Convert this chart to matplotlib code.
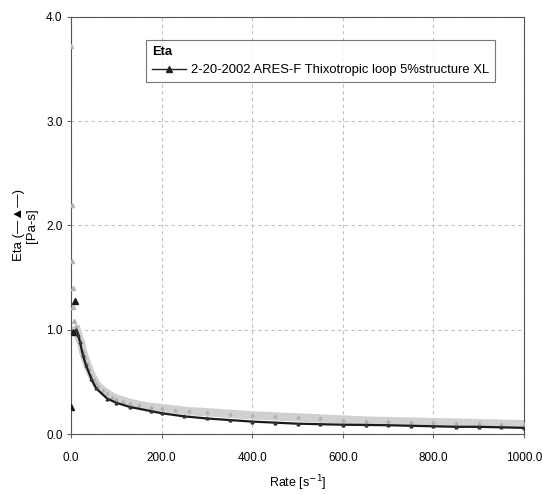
import matplotlib
matplotlib.use("Agg")
import matplotlib.pyplot as plt
from matplotlib import font_manager

fams = {f.name for f in font_manager.fontManager.ttflist}
main_font = "Liberation Sans Narrow" if "Liberation Sans Narrow" in fams else "Liberation Sans"
plt.rcParams['font.family'] = [main_font, 'DejaVu Sans']

# Up sweep (gray) data
up_rate = [1, 2, 3, 4, 5, 6, 10, 14, 18, 22, 26, 30, 35, 40, 45, 50, 55, 60, 70, 80, 90,
           100, 115, 130, 150, 177, 200, 230, 260, 300, 350, 400, 450, 500, 550, 600,
           650, 700, 750, 800, 850, 900, 950, 1000]
up_eta = [3.72, 2.2, 1.66, 1.40, 1.22, 1.08, 1.04, 0.98, 0.92, 0.88, 0.80, 0.74, 0.68, 0.62,
          0.57, 0.53, 0.49, 0.46, 0.42, 0.39, 0.36, 0.34, 0.32, 0.30, 0.28, 0.26, 0.25,
          0.235, 0.22, 0.21, 0.195, 0.18, 0.17, 0.16, 0.15, 0.14, 0.13, 0.125, 0.12,
          0.115, 0.11, 0.105, 0.10, 0.095]

# Down sweep (black) data
down_rate = [0, 5, 8, 12, 16, 20, 26, 33, 45, 55, 80, 100, 130, 177, 200, 250, 300, 350,
             400, 450, 500, 550, 600, 650, 700, 750, 800, 850, 900, 950, 1000]
down_eta = [0.26, 0.98, 1.28, 1.0, 0.95, 0.88, 0.76, 0.66, 0.53, 0.44, 0.34, 0.30, 0.26,
            0.22, 0.20, 0.17, 0.15, 0.135, 0.12, 0.11, 0.10, 0.095, 0.09, 0.088, 0.085,
            0.08, 0.075, 0.07, 0.07, 0.065, 0.06]

x_ticks = [0, 200, 400, 600, 800, 1000]
x_labels = ["0.0", "200.0", "400.0", "600.0", "800.0", "1000.0"]
y_ticks = [0, 1, 2, 3, 4]
y_labels = ["0.0", "1.0", "2.0", "3.0", "4.0"]

legend_title = "Eta"
series_label = "2-20-2002 ARES-F Thixotropic loop 5%structure XL"

fig = plt.figure(figsize=(5.42, 4.95), dpi=100)
ax = fig.add_axes([0.131, 0.123, 0.836, 0.843])

# gray band for up sweep
ax.plot(up_rate[6:], up_eta[6:], color='#d0d0d0', lw=6, solid_capstyle='butt', zorder=2)
ax.plot(up_rate[6:], up_eta[6:], linestyle='none', marker='^', ms=2, color='#b0b0b0', zorder=3)
ax.plot(up_rate[:6], up_eta[:6], linestyle='none', marker='^', ms=3, color='#b4b4b4', zorder=3)
# black down sweep
ax.plot(down_rate[3:], down_eta[3:], color='#1a1a1a', lw=1.6, zorder=4)
ax.plot(down_rate[3:], down_eta[3:], linestyle='none', marker='^', ms=2, color='#333333', zorder=4)
ax.plot(down_rate[:3], down_eta[:3], linestyle='none', marker='^', ms=4.5, color='#1a1a1a', zorder=5)

# legend proxy
proxy, = ax.plot([], [], color='#222222', lw=1, marker='^', ms=5)
leg = ax.legend([proxy], [series_label], title=legend_title, loc='upper left',
                bbox_to_anchor=(0.166, 0.945), borderaxespad=0, fancybox=False,
                frameon=True, edgecolor='#555555', fontsize=9.4, title_fontsize=9.4,
                handlelength=2.6, handletextpad=0.4, borderpad=0.45, alignment='left')
leg.get_frame().set_linewidth(0.8)
leg.get_title().set_fontweight('bold')

ax.set_xlim(0, 1000)
ax.set_ylim(0, 4.0)
ax.set_xticks(x_ticks)
ax.set_xticklabels(x_labels)
ax.set_yticks(y_ticks)
ax.set_yticklabels(y_labels)
ax.tick_params(axis='x', length=3, pad=10, labelsize=8.5, color='#666666')
ax.tick_params(axis='y', length=3, pad=3, labelsize=8.5, color='#666666')

ax.grid(True, linestyle=(0, (3, 3)), color='#c0c0c0', lw=0.8)
ax.set_axisbelow(True)
for s in ax.spines.values():
    s.set_color('#555555')
    s.set_linewidth(0.8)

ax.set_xlabel("Rate [s$^{-1}$]", fontsize=9, labelpad=7)
ax.set_ylabel("Eta (\u2014\u25B2\u2014)\n[Pa-s]", fontsize=9.5, labelpad=6,
              linespacing=1.1)

fig.savefig("out.png", dpi=100, facecolor='white')
